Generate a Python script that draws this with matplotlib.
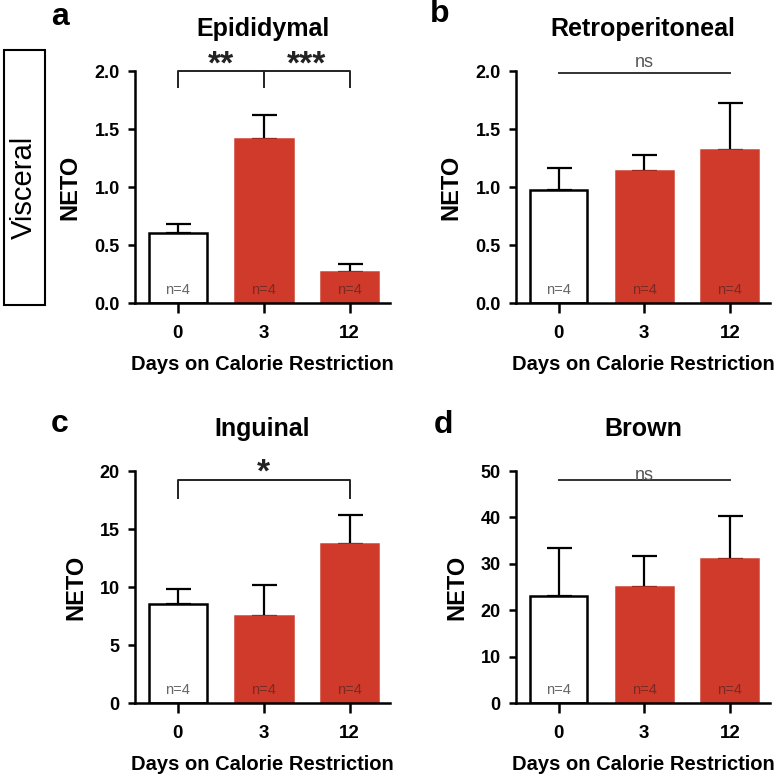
import matplotlib
matplotlib.use("Agg")
import matplotlib.pyplot as plt
from matplotlib.patches import Rectangle
import numpy as np

plt.rcParams['font.family'] = ['Liberation Sans', 'DejaVu Sans']

days = ['0', '3', '12']
epi_mean = [0.60, 1.41, 0.27]
epi_sem = [0.08, 0.21, 0.07]
retro_mean = [0.97, 1.14, 1.32]
retro_sem = [0.19, 0.14, 0.40]
ing_mean = [8.5, 7.5, 13.7]
ing_sem = [1.3, 2.7, 2.5]
brown_mean = [23.1, 24.9, 31.1]
brown_sem = [10.2, 6.8, 9.3]
n_labels = ['n=4', 'n=4', 'n=4']

red = '#cf3a2b'
x = np.arange(len(days))

fig = plt.figure(figsize=(7.81, 7.77), dpi=100)
W, H = 781.0, 777.0


def panel(left_px, top_px, right_px, bottom_px, means, sems, ymax, step, title, letter, letter_xy):
    ax = fig.add_axes([left_px / W, 1 - bottom_px / H, (right_px - left_px) / W, (bottom_px - top_px) / H])
    ax.bar(x, means, width=0.67, color=['white', red, red],
           edgecolor=['black', red, red], linewidth=1.8, zorder=2)
    ax.errorbar(x, means, yerr=[np.zeros(len(sems)), sems], fmt='none', ecolor='black',
                elinewidth=1.6, capsize=9, capthick=1.6, zorder=1)
    for i, lab in enumerate(n_labels):
        ax.text(x[i], ymax * 0.055, lab, ha='center', va='center', fontsize=10.5,
                color='#666666' if i == 0 else '#7a2a22')
    ax.set_xlim(-0.5, 2.47)
    ax.set_ylim(0, ymax)
    ax.set_yticks(np.arange(0, ymax + step / 2, step))
    if ymax < 5:
        ax.set_yticklabels(['%.1f' % v for v in np.arange(0, ymax + step / 2, step)])
    ax.set_xticks(x)
    ax.set_xticklabels(days)
    for s in ['top', 'right']:
        ax.spines[s].set_visible(False)
    for s in ['left', 'bottom']:
        ax.spines[s].set_linewidth(1.8)
    ax.tick_params(axis='y', length=5, width=1.8, pad=6, labelsize=13)
    ax.tick_params(axis='x', length=7, width=1.8, pad=9, labelsize=13.5)
    for t in ax.get_xticklabels() + ax.get_yticklabels():
        t.set_fontweight('bold')
    ax.set_ylabel('NETO', fontsize=17, fontweight='bold', labelpad=9)
    ax.set_xlabel('Days on Calorie Restriction', fontsize=14.5, fontweight='bold', labelpad=9)
    ax.set_title(title, fontsize=18, fontweight='bold', pad=25)
    fig.text(letter_xy[0] / W, 1 - letter_xy[1] / H, letter, fontsize=23, fontweight='bold',
             ha='center', va='baseline')
    return ax


# a
ax = panel(135, 71, 390, 303, epi_mean, epi_sem, 2.0, 0.5, 'Epididymal', 'a', (60, 25))
ax.plot([0, 0, 2, 2], [1.86, 2.0, 2.0, 1.86], color='#222222', lw=1.4, clip_on=False)
ax.plot([1, 1], [2.0, 1.86], color='#222222', lw=1.4, clip_on=False)
ax.text(0.5, 1.92, '**', ha='center', va='bottom', fontsize=24, fontweight='bold', color='#222222')
ax.text(1.5, 1.92, '***', ha='center', va='bottom', fontsize=24, fontweight='bold', color='#222222')

# b
ax = panel(516, 71, 770, 303, retro_mean, retro_sem, 2.0, 0.5, 'Retroperitoneal', 'b', (440, 22))
ax.plot([0, 2], [1.98, 1.98], color='#333333', lw=1.4, clip_on=False)
ax.text(1, 2.0, 'ns', ha='center', va='bottom', fontsize=13, color='#555555')

# c
ax = panel(135, 471, 390, 703, ing_mean, ing_sem, 20, 5, 'Inguinal', 'c', (60, 432))
ax.plot([0, 0, 2, 2], [17.7, 19.2, 19.2, 17.7], color='#222222', lw=1.4, clip_on=False)
ax.text(1, 18.5, '*', ha='center', va='bottom', fontsize=24, fontweight='bold', color='#222222')

# d
ax = panel(516, 471, 770, 703, brown_mean, brown_sem, 50, 10, 'Brown', 'd', (443, 433))
ax.plot([0, 2], [48.0, 48.0], color='#333333', lw=1.4, clip_on=False)
ax.text(1, 47.3, 'ns', ha='center', va='bottom', fontsize=13, color='#555555')

# Visceral box
fig.patches.append(Rectangle((4 / W, 1 - 305 / H), 41 / W, 255 / H, transform=fig.transFigure,
                             facecolor='white', edgecolor='black', linewidth=1.5))
fig.text(24 / W, 1 - 187 / H, 'Visceral', rotation=90, ha='center', va='center', fontsize=21)

fig.savefig('out.png', dpi=100)
